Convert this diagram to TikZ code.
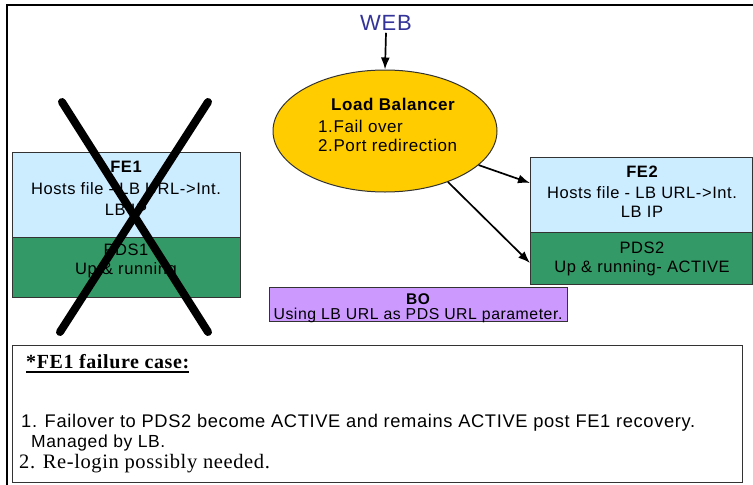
\documentclass[tikz,border=0pt]{standalone}
\usepackage{fontspec}
\setmainfont{Liberation Sans}
\newfontfamily\sansf{Liberation Sans}[LetterSpace=3.5]
\newfontfamily\serf{Liberation Serif}[LetterSpace=3]
\usetikzlibrary{shapes.geometric,arrows.meta}
\definecolor{feblue}{HTML}{CCECFF}
\definecolor{pdsgreen}{HTML}{339966}
\definecolor{lbgold}{HTML}{FFCC00}
\definecolor{bopurple}{HTML}{CC99FF}
\definecolor{webblue}{HTML}{333399}
\definecolor{edge}{HTML}{333333}
\tikzset{
  box/.style={draw=edge, line width=1pt, anchor=north west, inner sep=0, outer sep=0},
  lbl/.style={inner sep=0, anchor=base, font=\sansf\fontsize{16.5}{20}\selectfont},
  lblb/.style={lbl, font=\sansf\bfseries\fontsize{16.5}{20}\selectfont},
  arr/.style={line width=1.7pt, -{Latex[length=12pt,width=9pt]}},
  cross/.style={line width=8pt, line cap=round}
}
\begin{document}
\begin{tikzpicture}[x=1pt,y=-1pt]
\useasboundingbox (0,0) rectangle (753,485);
\fill[white] (0,0) rectangle (753,485);
% outer frame
\draw[line width=2pt] (6.5,485) -- (6.5,5) -- (753,5);

% FE1 / PDS1
\node[box, fill=feblue, minimum width=228pt, minimum height=85pt] (fe1) at (12,152) {};
\node[box, fill=pdsgreen, minimum width=228pt, minimum height=60pt] (pds1) at (12,237) {};
\node[lblb] (fe1t) at (126,172) {FE1};
\node[lbl] (fe1a) at (126,194) {Hosts file - LB URL->Int.};
\node[lbl] (fe1b) at (126,215) {LB IP};
\node[lbl] (pds1a) at (126,255) {PDS1};
\node[lbl] (pds1b) at (126,274) {Up \& running};

% cross
\draw[cross] (62,102) -- (208,332);
\draw[cross] (208,102) -- (60,332);

% FE2 / PDS2
\node[box, fill=feblue, minimum width=222pt, minimum height=75pt] (fe2) at (530,157) {};
\node[box, fill=pdsgreen, minimum width=222pt, minimum height=52pt] (pds2) at (530,232) {};
\node[lblb] (fe2t) at (642,177) {FE2};
\node[lbl] (fe2a) at (642,198) {Hosts file - LB URL->Int.};
\node[lbl] (fe2b) at (642,217) {LB IP};
\node[lbl] (pds2a) at (642,253) {PDS2};
\node[lbl] (pds2b) at (642,272) {Up \& running- ACTIVE};

% BO
\node[box, fill=bopurple, minimum width=298pt, minimum height=34pt] (bo) at (269,287) {};
\node[lblb, font=\sansf\bfseries\fontsize{15.5}{18}\selectfont] (bot) at (418,304) {BO};
\node[lbl, font=\sansf\fontsize{15.8}{18}\selectfont] (boa) at (418,319.5) {Using LB URL as PDS URL parameter.};

% Load balancer
\node[ellipse, draw=edge, line width=1pt, fill=lbgold, minimum width=224pt, minimum height=122pt, inner sep=0] (lb) at (385,131) {};
\node[lblb, font=\sansf\bfseries\fontsize{17}{20}\selectfont] (lbt) at (393,110) {Load Balancer};
\node[lbl, anchor=base west, font=\sansf\fontsize{17}{20}\selectfont] (lb1) at (318,132) {1.Fail over};
\node[lbl, anchor=base west, font=\sansf\fontsize{17}{20}\selectfont] (lb2) at (318,151) {2.Port redirection};

% WEB
\node[inner sep=2pt, text=webblue, font=\sansf\fontsize{22}{24}\selectfont] (web) at (386,23) {WEB};

% connectors
\draw[arr] (web.south) -- (lb.north);
\draw[arr] (lb.-20) -- ([yshift=-26pt]fe2.north west);
\draw[arr] (lb.-39) -- ([yshift=-31pt]pds2.north west);

% note box
\node[box, minimum width=730pt, minimum height=137pt] (note) at (12,345) {};
\node[inner sep=0, anchor=base west, font=\serf\bfseries\fontsize{20}{22}\selectfont] (ttl) at (26,368) {*FE1 failure case:};
\draw[line width=2.2pt] ([yshift=-4pt]ttl.base west) -- ([yshift=-4pt]ttl.base east);
\node[inner sep=0, anchor=base west, font=\sansf\fontsize{18.3}{20}\selectfont] (it1) at (21,427) {1. Failover to PDS2 become ACTIVE and remains ACTIVE post FE1 recovery.};
\node[inner sep=0, anchor=base west, font=\sansf\fontsize{17.5}{20}\selectfont] (it1b) at (31,447) {Managed by LB.};
\node[inner sep=0, anchor=base west, font=\serf\fontsize{20.5}{22}\selectfont] (it2) at (19,468) {2. Re-login possibly needed.};
\end{tikzpicture}
\end{document}
